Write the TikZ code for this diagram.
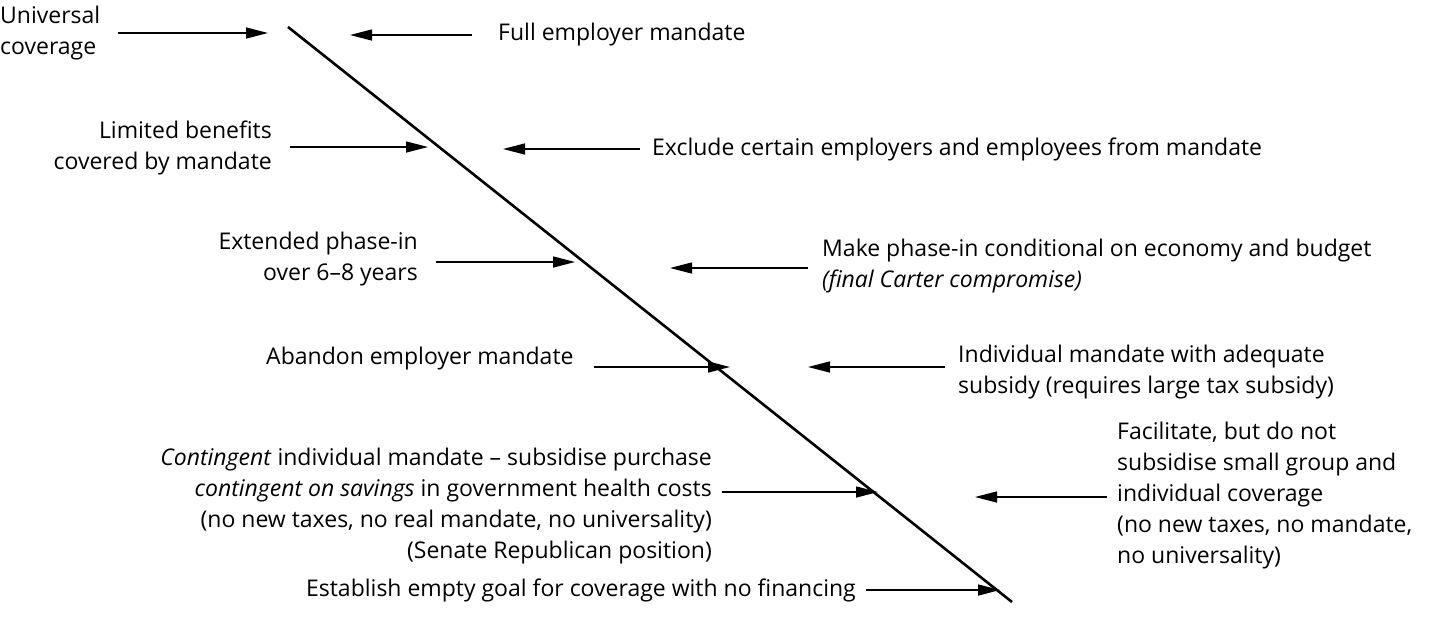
\documentclass[tikz,border=0pt]{standalone}
\usepackage{fontspec}
\setmainfont{Open Sans}
\usetikzlibrary{arrows.meta}
\begin{document}
\begin{tikzpicture}[x=1pt,y=-1pt,
  lbl/.style={inner sep=0pt, font=\fontsize{23}{31}\selectfont},
  arr/.style={line width=1.4pt, -{Triangle[length=22pt,width=11pt]}},
  scale line/.style={line width=2.6pt}]
\useasboundingbox (0,0) rectangle (1434,633);

% the diagonal scale from most to least coverage
\coordinate (top) at (288,27);
\coordinate (bot) at (1012,602);
\draw[scale line] (top) -- (bot);

% arrow heads pointing at the scale
\coordinate (h1l) at (268,33);
\coordinate (h1r) at (350,35);
\coordinate (h2l) at (428,147);
\coordinate (h2r) at (503,149);
\coordinate (h3l) at (575,262);
\coordinate (h3r) at (670,268);
\coordinate (h4l) at (730,367);
\coordinate (h4r) at (808,367);
\coordinate (h5l) at (878,492);
\coordinate (h5r) at (975,497);
\coordinate (h6l) at (1000,590);

% left-hand positions
\node[lbl, anchor=west, align=left] (uc) at (0,33) {Universal\\coverage};
\node[lbl, anchor=east, align=right] (lb) at (272,148) {Limited benefits\\covered by mandate};
\node[lbl, anchor=east, align=right] (ep) at (418,259) {Extended phase-in\\over 6--8 years};
\node[lbl, anchor=west] (ab) at (266,359) {Abandon employer mandate};
\node[lbl, anchor=east, align=right] (cm) at (712,506) {\textit{Contingent} individual mandate -- subsidise purchase\\\textit{contingent on savings} in government health costs\\(no new taxes, no real mandate, no universality)\\(Senate Republican position)};
\node[lbl, anchor=east] (eg) at (856,590) {Establish empty goal for coverage with no financing};

% right-hand positions
\node[lbl, anchor=west] (fe) at (498,35) {Full employer mandate};
\node[lbl, anchor=west] (ex) at (652,149) {Exclude certain employers and employees from mandate};
\node[lbl, anchor=west, align=left] (mp) at (822,266) {Make phase-in conditional on economy and budget\\\textit{(final Carter compromise)}};
\node[lbl, anchor=west, align=left] (im) at (958,372) {Individual mandate with adequate\\subsidy (requires large tax subsidy)};
\node[lbl, anchor=west, align=left] (fa) at (1117,496) {Facilitate, but do not\\subsidise small group and\\individual coverage\\(no new taxes, no mandate,\\no universality)};

% arrows from the left
\draw[arr, shorten <=18pt] (uc.east |- h1l) -- (h1l);
\draw[arr, shorten <=18pt] (lb.east |- h2l) -- (h2l);
\draw[arr, shorten <=18pt] (ep.east |- h3l) -- (h3l);
\draw[arr, shorten <=20pt] (ab.east |- h4l) -- (h4l);
\draw[arr, shorten <=10pt] (cm.east |- h5l) -- (h5l);
\draw[arr, shorten <=10pt] (eg.east |- h6l) -- (h6l);

% arrows from the right
\draw[arr, shorten <=26pt] (fe.west |- h1r) -- (h1r);
\draw[arr, shorten <=12pt] (ex.west |- h2r) -- (h2r);
\draw[arr, shorten <=14pt] (mp.west |- h3r) -- (h3r);
\draw[arr, shorten <=13pt] (im.west |- h4r) -- (h4r);
\draw[arr, shorten <=10pt] (fa.west |- h5r) -- (h5r);
\end{tikzpicture}
\end{document}
